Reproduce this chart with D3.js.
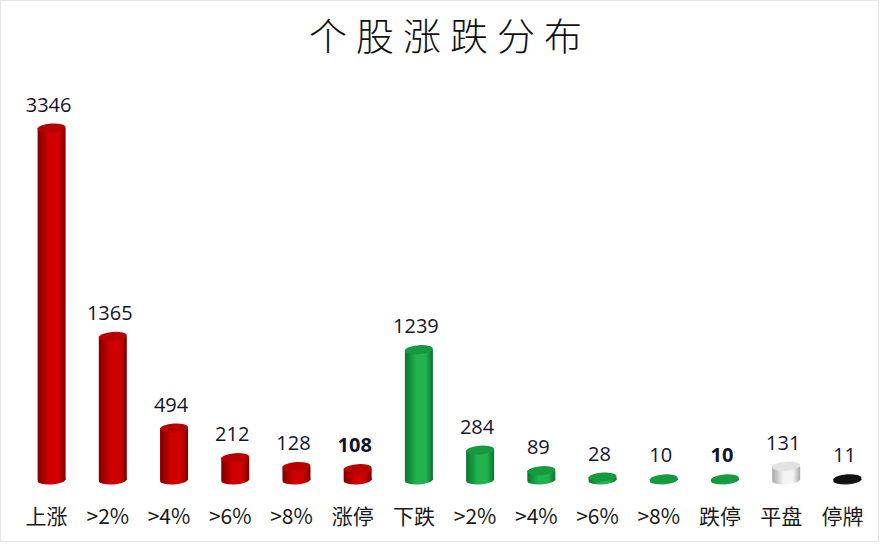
<!DOCTYPE html>
<html>
<head>
<meta charset="utf-8">
<script src="https://cdn.jsdelivr.net/npm/d3@7"></script>
<style>
  html, body { margin: 0; padding: 0; background: #fff; }
  svg { display: block; }
</style>
</head>
<body>
<div id="chart"></div>
<script>
// DATA
const categories = ['上涨', '>2%', '>4%', '>6%', '>8%', '涨停', '下跌', '>2%', '>4%', '>6%', '>8%', '跌停', '平盘', '停牌'];
const values = [3346, 1365, 494, 212, 128, 108, 1239, 284, 89, 28, 10, 10, 131, 11];
const groups = ['up', 'up', 'up', 'up', 'up', 'up', 'down', 'down', 'down', 'down', 'down', 'down', 'flat', 'halt'];
const chartTitle = '个股涨跌分布';

// LAYOUT
const width = 882;
const height = 548;
const baseY = 480;
const barW = 28;
const ry = 4.5;

const palette = {
  up:   { edge: '#7e0000', mid: '#d00000', top: '#b80000' },
  down: { edge: '#08752c', mid: '#22b24e', top: '#169a40' },
  flat: { edge: '#a8a8a8', mid: '#f4f4f4', top: '#e2e2e2' },
  halt: { edge: '#000000', mid: '#2a2a2a', top: '#111111' }
};

const svg = d3.select('#chart').append('svg')
  .attr('width', width)
  .attr('height', height);

// faint frame
svg.append('rect')
  .attr('x', 0.5).attr('y', 0.5)
  .attr('width', 878).attr('height', 541)
  .attr('fill', '#fff')
  .attr('stroke', '#e6e6e6');

const defs = svg.append('defs');
Object.entries(palette).forEach(([k, c]) => {
  const g = defs.append('linearGradient').attr('id', 'grad-' + k)
    .attr('x1', '0%').attr('x2', '100%').attr('y1', '0%').attr('y2', '0%');
  g.append('stop').attr('offset', '0%').attr('stop-color', c.edge);
  g.append('stop').attr('offset', '40%').attr('stop-color', c.mid);
  g.append('stop').attr('offset', '75%').attr('stop-color', c.mid);
  g.append('stop').attr('offset', '100%').attr('stop-color', c.edge);
});

const idx = d3.range(categories.length);

const x = d3.scaleBand()
  .domain(idx)
  .range([21, 878])
  .paddingInner(0)
  .paddingOuter(0);

const y = d3.scaleLinear()
  .domain([0, 3346])
  .range([baseY, 128]);

const cx = i => x(i) + x.bandwidth() / 2;

// TITLE
svg.append('text')
  .attr('x', width / 2 + 9)
  .attr('y', 50)
  .attr('text-anchor', 'middle')
  .style('font-family', '"Noto Sans CJK SC", sans-serif')
  .style('font-weight', 300)
  .style('font-size', '38px')
  .style('letter-spacing', '9px')
  .attr('fill', '#111')
  .text(chartTitle);

// BARS
const bars = svg.selectAll('.bar')
  .data(idx)
  .enter().append('g')
  .attr('class', 'bar');

bars.append('rect')
  .attr('x', i => cx(i) - barW / 2)
  .attr('y', i => y(values[i]))
  .attr('width', barW)
  .attr('height', i => baseY - y(values[i]))
  .attr('fill', i => `url(#grad-${groups[i]})`);

bars.append('ellipse')
  .attr('cx', i => cx(i))
  .attr('cy', baseY)
  .attr('rx', barW / 2)
  .attr('ry', ry)
  .attr('transform', i => `rotate(-4, ${cx(i)}, ${baseY})`)
  .attr('fill', i => `url(#grad-${groups[i]})`);

bars.append('ellipse')
  .attr('cx', i => cx(i))
  .attr('cy', i => y(values[i]))
  .attr('rx', barW / 2)
  .attr('ry', ry)
  .attr('transform', i => `rotate(-4, ${cx(i)}, ${y(values[i])})`)
  .attr('fill', i => palette[groups[i]].top);

// VALUE LABELS
const boldCats = ['涨停', '跌停'];
svg.selectAll('.val')
  .data(idx)
  .enter().append('text')
  .attr('class', 'val')
  .attr('x', i => cx(i) - 3)
  .attr('y', i => y(values[i]) - ry - 12)
  .attr('text-anchor', 'middle')
  .style('font-family', '"Open Sans", sans-serif')
  .style('font-size', '20px')
  .style('font-weight', i => boldCats.includes(categories[i]) ? 700 : 400)
  .attr('fill', '#14142a')
  .text(i => values[i]);

// CATEGORY AXIS
const axis = svg.append('g')
  .attr('transform', `translate(-5,${baseY})`)
  .call(d3.axisBottom(x).tickSize(0).tickPadding(0).tickFormat(i => categories[i]));
axis.select('.domain').remove();
axis.selectAll('text')
  .attr('dy', 0)
  .attr('y', 44)
  .style('font-family', '"Noto Sans CJK SC", "Open Sans", sans-serif')
  .style('font-size', '21px')
  .attr('fill', '#1a1a1a');
</script>
</body>
</html>
